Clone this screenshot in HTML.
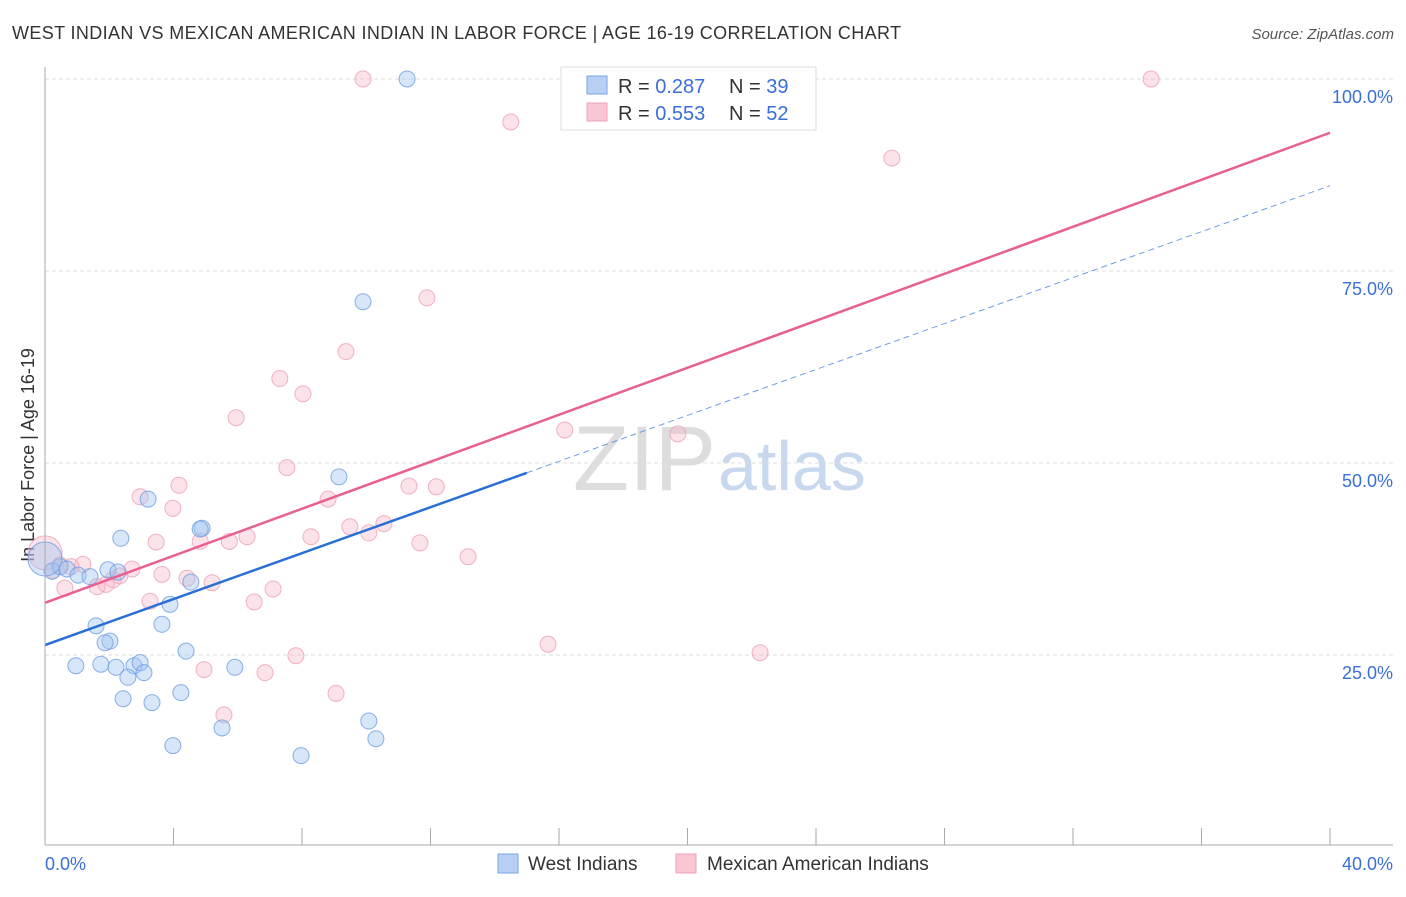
<!DOCTYPE html>
<html><head><meta charset="utf-8"><style>
body{margin:0;background:#fff;font-family:"Liberation Sans",sans-serif;}
svg text{font-family:"Liberation Sans",sans-serif;}
</style></head><body>
<svg id="c" width="1406" height="892">
<text x="12" y="39" font-size="18" fill="#333" textLength="889">WEST INDIAN VS MEXICAN AMERICAN INDIAN IN LABOR FORCE | AGE 16-19 CORRELATION CHART</text>
<text x="1394" y="39" font-size="15" fill="#555" font-style="italic" text-anchor="end">Source: ZipAtlas.com</text>
<text x="716" y="490" font-size="92" fill="#ddd" text-anchor="end" font-family="Liberation Serif">ZIP</text>
<text x="718" y="490" font-size="70" fill="#c8d8ee">atlas</text>
<text transform="translate(34,455) rotate(-90)" font-size="18" fill="#333" text-anchor="middle">In Labor Force | Age 16-19</text>
<g id="grid"></g><g id="marks"></g>
<line x1="45" y1="67" x2="45" y2="845" stroke="#aaa"/>
<line x1="45" y1="845" x2="1393" y2="845" stroke="#aaa"/>
<text x="45" y="870" font-size="18" fill="#3a6fd8">0.0%</text>
<text x="1393" y="870" font-size="18" fill="#3a6fd8" text-anchor="end">40.0%</text>
<g>
<rect x="561" y="67" width="255" height="63" fill="#fff" stroke="#ddd"/>
<rect x="587" y="76" width="20" height="18" fill="#b8d0f4" stroke="#7aa3e3"/>
<rect x="587" y="103" width="20" height="18" fill="#f9c6d4" stroke="#eea0b8"/>
<text x="618" y="93" font-size="20" fill="#333">R = <tspan fill="#3a6fd8">0.287</tspan></text>
<text x="729" y="93" font-size="20" fill="#333">N = <tspan fill="#3a6fd8">39</tspan></text>
<text x="618" y="120" font-size="20" fill="#333">R = <tspan fill="#3a6fd8">0.553</tspan></text>
<text x="729" y="120" font-size="20" fill="#333">N = <tspan fill="#3a6fd8">52</tspan></text>
</g>
<g>
<rect x="498" y="854" width="20" height="19" fill="#b8d0f4" stroke="#7aa3e3"/>
<text x="528" y="870" font-size="19" fill="#333">West Indians</text>
<rect x="676" y="854" width="20" height="19" fill="#f9c6d4" stroke="#eea0b8"/>
<text x="707" y="870" font-size="19" fill="#333">Mexican American Indians</text>
</g>
</svg>
<script>
const yTicks=[25,50,75,100];
const xTickCount=10;
const blueX=[11.27,9.90,9.15,3.21,4.89,4.83,2.36,0.22,0.47,0.68,1.03,1.40,1.96,2.27,4.54,3.89,3.64,1.59,2.02,1.87,4.39,0.96,1.74,2.21,2.77,2.96,3.08,2.58,5.91,4.23,2.43,3.33,10.08,5.51,10.30,3.98,7.97,0.0];
const blueY=[100,71.0,48.2,45.3,41.5,41.4,40.2,35.9,36.5,36.2,35.4,35.2,36.1,35.8,34.5,31.6,29.0,28.8,26.8,26.6,25.5,23.6,23.8,23.4,23.6,24.0,22.7,22.1,23.4,20.1,19.3,18.8,16.4,15.5,14.1,13.2,11.9,37.5];
const pinkX=[9.90,34.43,14.50,26.36,11.89,9.37,7.31,8.03,5.95,7.53,4.17,2.96,3.98,8.81,11.33,12.18,3.46,4.83,5.74,6.29,8.28,9.49,10.08,10.55,11.67,13.17,16.18,19.70,15.66,22.26,7.81,4.95,6.85,9.06,5.57,3.64,4.42,5.20,6.51,7.10,3.27,2.71,2.33,2.12,1.90,1.62,1.18,0.81,0.62,0.0,0.25,0.47];
const pinkY=[100,100,94.4,89.7,71.5,64.5,61.0,59.0,55.9,49.4,47.1,45.6,44.1,45.3,47.0,46.9,39.7,39.8,39.8,40.4,40.4,41.7,40.9,42.1,39.6,37.8,54.3,53.8,26.4,25.3,24.9,23.1,22.7,20.0,17.2,35.5,35.0,34.4,31.9,33.6,32.0,36.2,35.3,34.8,34.2,33.9,36.8,36.5,33.7,38.3,36.0,36.7];
const blueTrend=[26.3,86.1];
const blueSolidEnd=15.0;
const pinkTrend=[31.8,93.0];
const X=v=>45+v/40*1285, Y=v=>847-v*7.68;
const ns='http://www.w3.org/2000/svg';
const grid=document.getElementById('grid'), marks=document.getElementById('marks');
function mk(tag,attrs,parent){const e=document.createElementNS(ns,tag);for(const k in attrs)e.setAttribute(k,attrs[k]);parent.appendChild(e);return e;}
yTicks.forEach(t=>{
 const l=mk('line',{x1:45,x2:1393,y1:Y(t),y2:Y(t),stroke:'#ddd','stroke-dasharray':'4,3'},grid);
 
 
 const tx=mk('text',{x:1393,y:Y(t)+24,'font-size':18,fill:'#3a6fd8','text-anchor':'end'},grid);
 tx.textContent=t.toFixed(1)+'%';
 
 
});
for(let i=1;i<=xTickCount;i++){
 const l=mk('line',{x1:X(i*4),x2:X(i*4),y1:828,y2:845,stroke:'#aaa'},grid);
 
 
}
function dots(xs,ys,fill,stroke,name){xs.forEach((x,i)=>{
 const big=(x===0);
 const c=mk('circle',{cx:X(x),cy:Y(ys[i]),r:big?17:8,fill:fill,stroke:stroke,'stroke-width':1,'stroke-opacity':0.8},marks);
 
 
});}
dots(pinkX,pinkY,'rgba(246,178,198,0.38)','#eea0b8','pink-point');
dots(blueX,blueY,'rgba(160,196,240,0.42)','#6d9de2','blue-point');
const bAt=x=>blueTrend[0]+(blueTrend[1]-blueTrend[0])*x/40;
let l=mk('line',{x1:X(0),y1:Y(bAt(0)),x2:X(blueSolidEnd),y2:Y(bAt(blueSolidEnd)),stroke:'#2a6fd6','stroke-width':2.5},marks);


l=mk('line',{x1:X(blueSolidEnd),y1:Y(bAt(blueSolidEnd)),x2:X(40),y2:Y(bAt(40)),stroke:'#6d9de2','stroke-width':1,'stroke-dasharray':'6,4'},marks);


l=mk('line',{x1:X(0),y1:Y(pinkTrend[0]),x2:X(40),y2:Y(pinkTrend[1]),stroke:'#e8608e','stroke-width':2.5},marks);


</script>
</body></html>
